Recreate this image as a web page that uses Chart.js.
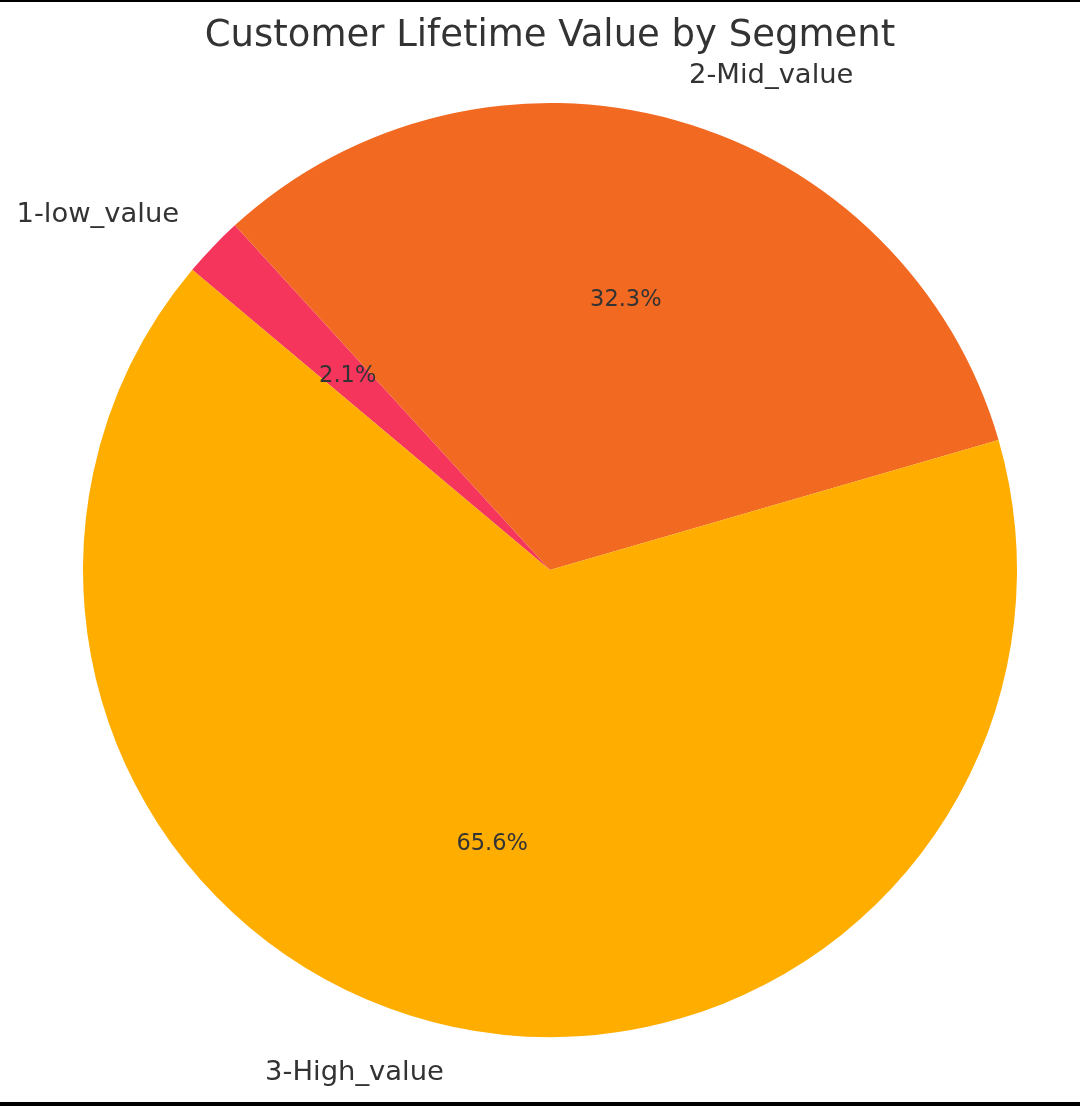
<!DOCTYPE html>
<html lang="en-US">
<head>
    <meta charset="utf-8">
    <title>Customer Lifetime Value by Segment</title>
    <script src="https://cdn.jsdelivr.net/npm/chart.js@4/dist/chart.umd.min.js"></script>
</head>
<style>
    body { margin: 0; background: #fff; }
    #holder { position: absolute; left: 0; top: 0; width: 1080px; height: 1106px; }
    .edge { position: absolute; left: 0; width: 1080px; background: #000; }
</style>
<body>
<div id="holder">
    <canvas id="chart" width="1080" height="1106"></canvas>
</div>
<div class="edge" style="top:0;height:2px"></div>
<div class="edge" style="top:1102px;height:4px"></div>
<script>
    const segments = ['1-low_value', '2-Mid_value', '3-High_value'];
    const shares = [2.1, 32.3, 65.6];
    const colors = ['#f5355c', '#f26922', '#ffae00'];

    // matplotlib style labels: names at 1.1 r, percentages at 0.6 r
    const sliceLabels = {
        id: 'sliceLabels',
        afterDatasetsDraw(chart) {
            const ctx = chart.ctx;
            const meta = chart.getDatasetMeta(0);
            const total = shares.reduce((a, b) => a + b, 0);
            ctx.save();
            ctx.fillStyle = '#333333';
            ctx.textBaseline = 'middle';
            meta.data.forEach(function (arc, i) {
                const mid = (arc.startAngle + arc.endAngle) / 2;
                const r = arc.outerRadius;
                const cx = arc.x, cy = arc.y;
                let x = cx + Math.cos(mid) * r * 1.1;
                let y = cy + Math.sin(mid) * r * 1.1;
                ctx.font = '27.4px "DejaVu Sans"';
                ctx.textAlign = Math.cos(mid) > 0 ? 'left' : 'right';
                ctx.fillText(segments[i], x, y);

                x = cx + Math.cos(mid) * r * 0.6;
                y = cy + Math.sin(mid) * r * 0.6;
                ctx.font = '22.5px "DejaVu Sans"';
                ctx.textAlign = 'center';
                ctx.fillText((shares[i] / total * 100).toFixed(1) + '%', x, y);
            });
            ctx.restore();
        }
    };

    const config = {
        type: 'pie',
        data: {
            labels: segments,
            datasets: [{
                data: shares,
                backgroundColor: colors,
                borderWidth: 0
            }]
        },
        options: {
            responsive: false,
            animation: false,
            rotation: -50,
            layout: {
                padding: { left: 83, right: 63, top: 0, bottom: 69 }
            },
            plugins: {
                legend: { display: false },
                tooltip: { enabled: false },
                title: {
                    display: true,
                    text: 'Customer Lifetime Value by Segment',
                    color: '#333333',
                    font: { family: 'DejaVu Sans', size: 37, weight: 'normal', lineHeight: 1.2 },
                    padding: { top: 14, bottom: 44.6 }
                }
            }
        },
        plugins: [sliceLabels]
    };

    window.onload = function () {
        const ctx = document.getElementById('chart').getContext('2d');
        window.myPie = new Chart(ctx, config);
    };
</script>
</body>
</html>
